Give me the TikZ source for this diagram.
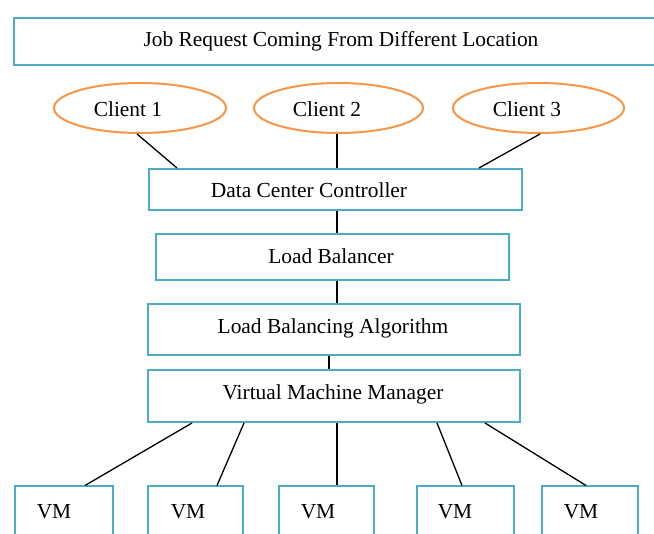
\documentclass[tikz,border=0pt]{standalone}
\usepackage{fontspec}
\setmainfont{Liberation Serif}
\usetikzlibrary{shapes.geometric}
\definecolor{boxcyan}{HTML}{4BACC6}
\definecolor{ellorange}{HTML}{F79646}
\begin{document}
\begin{tikzpicture}[x=1pt,y=-1pt,
  box/.style={draw=boxcyan,line width=2pt,inner sep=0pt,anchor=north west},
  cloud/.style={draw=ellorange,line width=2pt,ellipse,inner sep=0pt,minimum height=50pt},
  lbl/.style={anchor=base,inner sep=0pt,font=\fontsize{21.4}{24}\selectfont},
  link/.style={draw=black,line width=1.3pt}]
\clip (0,0) rectangle (654,534);
\fill[white] (0,0) rectangle (654,534);
% boxes
\node[box,minimum width=660pt,minimum height=47pt] (top) at (13,17) {};
\node[box,minimum width=373pt,minimum height=41pt] (dcc) at (148,168) {};
\node[box,minimum width=353pt,minimum height=46pt] (lb) at (155,233) {};
\node[box,minimum width=372pt,minimum height=51pt] (lba) at (147,303) {};
\node[box,minimum width=372pt,minimum height=52pt] (vmm) at (147,369) {};
\node[box,minimum width=98pt,minimum height=70pt] (vm1) at (13.5,485.5) {};
\node[box,minimum width=95pt,minimum height=70pt] (vm2) at (147,485.5) {};
\node[box,minimum width=95pt,minimum height=70pt] (vm3) at (278,485.5) {};
\node[box,minimum width=97pt,minimum height=70pt] (vm4) at (416,485.5) {};
\node[box,minimum width=96pt,minimum height=70pt] (vm5) at (541,485.5) {};
% clients
\node[cloud,minimum width=172pt] (c1) at (140,108) {};
\node[cloud,minimum width=169pt] (c2) at (338.5,108) {};
\node[cloud,minimum width=171pt] (c3) at (538.5,108) {};
% labels
\node[lbl] (ttop) at (341,47) {Job Request Coming From Different Location};
\node[lbl] (tc1) at (128,117) {Client 1};
\node[lbl] (tc2) at (327,117) {Client 2};
\node[lbl] (tc3) at (527,117) {Client 3};
\node[lbl] (tdcc) at (309,198) {Data Center Controller};
\node[lbl] (tlb) at (331,264) {Load Balancer};
\node[lbl] (tlba) at (333,334) {Load Balancing Algorithm};
\node[lbl] (tvmm) at (333,400) {Virtual Machine Manager};
\node[lbl] (tvm1) at (54,519) {VM};
\node[lbl] (tvm2) at (188,519) {VM};
\node[lbl] (tvm3) at (318,519) {VM};
\node[lbl] (tvm4) at (455,519) {VM};
\node[lbl] (tvm5) at (581,519) {VM};
% connectors
\draw[link] ([xshift=-3pt]c1.south) -- ([xshift=29pt]dcc.north west);
\draw[link] ([xshift=-1.5pt]c2.south) -- ([xshift=189pt]dcc.north west);
\draw[link] ([xshift=1.5pt]c3.south) -- ([xshift=-44pt]dcc.north east);
\draw[link] ([xshift=189pt]dcc.south west) -- ([xshift=182pt]lb.north west);
\draw[link] ([xshift=182pt]lb.south west) -- ([xshift=190pt]lba.north west);
\draw[link] ([xshift=182pt]lba.south west) -- ([xshift=182pt]vmm.north west);
\draw[link] ([xshift=45pt]vmm.south west) -- ([xshift=71.5pt]vm1.north west);
\draw[link] ([xshift=97pt]vmm.south west) -- ([xshift=70pt]vm2.north west);
\draw[link] ([xshift=190pt]vmm.south west) -- ([xshift=59pt]vm3.north west);
\draw[link] ([xshift=290pt]vmm.south west) -- ([xshift=46pt]vm4.north west);
\draw[link] ([xshift=338pt]vmm.south west) -- ([xshift=45pt]vm5.north west);
\end{tikzpicture}
\end{document}
